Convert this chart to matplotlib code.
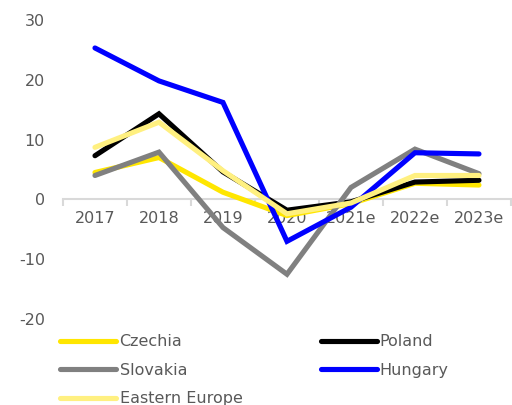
import matplotlib
matplotlib.use('Agg')
from matplotlib import pyplot as plt

YEARS = ['2017', '2018', '2019', '2020', '2021e', '2022e', '2023e']
CZECHIA = [4.5, 7.0, 1.2, -2.7, -0.7, 2.7, 2.4]
POLAND = [7.3, 14.3, 4.6, -1.8, -0.4, 2.9, 3.2]
SLOVAKIA = [4.0, 7.9, -4.7, -12.5, 2.0, 8.4, 4.3]
HUNGARY = [25.3, 19.8, 16.2, -7.0, -1.3, 7.8, 7.6]
EASTERN_EUROPE = [8.7, 12.9, 4.8, -2.4, -0.6, 4.0, 4.0]

TEXT = '#595959'
FS = 11.5
plt.rcParams['font.family'] = ['DejaVu Sans']
plt.rcParams['font.size'] = FS

fig = plt.figure(figsize=(5.12, 4.05), dpi=100)
ax = fig.add_axes([0.123, 0.212, 0.875, 0.739])

x = list(range(len(YEARS)))
lw = 3.7
series = [
    ('Czechia', CZECHIA, '#FFE600'),
    ('Poland', POLAND, '#000000'),
    ('Slovakia', SLOVAKIA, '#808080'),
    ('Hungary', HUNGARY, '#0000FF'),
    ('Eastern Europe', EASTERN_EUROPE, '#FFF080'),
]
lines = {}
for name, vals, col in series:
    ln, = ax.plot(x, vals, color=col, lw=lw, solid_capstyle='round',
                  solid_joinstyle='miter', label=name, zorder=3)
    lines[name] = ln

ax.set_xlim(-0.5, len(YEARS) - 0.5)
ax.set_ylim(-20, 30)
ax.set_yticks([-20, -10, 0, 10, 20, 30])
ax.set_yticklabels(['-20', '-10', '0', '10', '20', '30'])
ax.set_xticks(x)
ax.set_xticklabels(YEARS)
ax.set_xticks([i - 0.5 for i in range(len(YEARS) + 1)], minor=True)

for s in ['top', 'right', 'left']:
    ax.spines[s].set_visible(False)
ax.spines['bottom'].set_position(('data', 0))
ax.spines['bottom'].set_color('#d9d9d9')
ax.spines['bottom'].set_linewidth(1.5)
ax.spines['bottom'].set_zorder(1)

ax.tick_params(axis='x', which='major', length=0, pad=8, colors=TEXT, labelsize=FS)
ax.tick_params(axis='x', which='minor', length=5, width=1.5, color='#d9d9d9', direction='out')
ax.tick_params(axis='y', length=0, pad=13, colors=TEXT, labelsize=FS)

order = ['Czechia', 'Slovakia', 'Eastern Europe', 'Poland', 'Hungary']
leg = fig.legend([lines[n] for n in order], order, ncol=2, loc='upper left',
                 bbox_to_anchor=(0.118, 0.175), frameon=False, fontsize=FS,
                 handlelength=3.5, handletextpad=0.2, columnspacing=4.9,
                 labelspacing=0.85, borderaxespad=0, borderpad=0)
for t in leg.get_texts():
    t.set_color(TEXT)

fig.savefig('out.png', dpi=100)
